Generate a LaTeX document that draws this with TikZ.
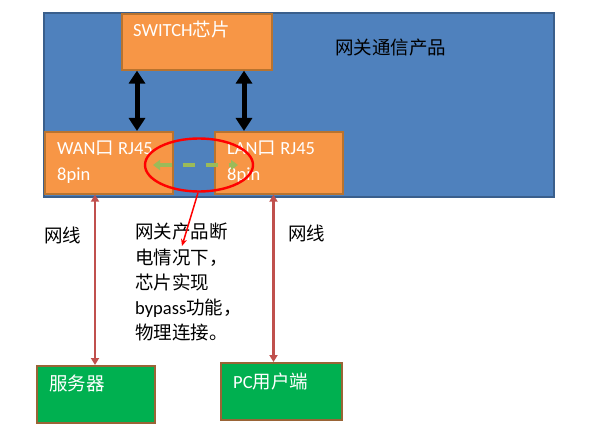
\documentclass[tikz,border=0pt]{standalone}
\usepackage{fontspec}
\setmainfont{Carlito}
\newfontfamily\cjk{Noto Sans CJK SC}
\usepackage{tikz}
\usetikzlibrary{arrows.meta,shapes.geometric}
\definecolor{gwblue}{HTML}{4F81BD}
\definecolor{gwblueline}{HTML}{3A5F8C}
\definecolor{portorange}{HTML}{F79646}
\definecolor{portline}{HTML}{B8732F}
\definecolor{hostgreen}{HTML}{00B050}
\definecolor{hostline}{HTML}{9A6436}
\definecolor{cablered}{HTML}{C0504D}
\definecolor{bypassgreen}{HTML}{9BBB59}

\begin{document}
\begin{tikzpicture}[x=1pt,y=-1pt,font=\fontsize{18.5}{25.3}\selectfont,
  portbox/.style={draw=portline,fill=portorange,line width=1.6pt,anchor=north west,inner sep=0pt},
  hostbox/.style={draw=hostline,fill=hostgreen,line width=2pt,anchor=north west,inner sep=0pt},
  boxtext/.style={text=white,anchor=base west,inner sep=0pt},
  plaintext/.style={text=black,inner sep=0pt},
  busarrow/.style={line width=5pt,{Triangle[length=13pt,width=16pt]}-{Triangle[length=13pt,width=16pt]}},
  cablearrow/.style={cablered,line width=2.4pt,{Triangle[length=7pt,width=8pt]}-{Triangle[length=7pt,width=8pt]}}]
\useasboundingbox (0,0) rectangle (608,441);
\node[draw=gwblueline,fill=gwblue,line width=1.6pt,anchor=north west,inner sep=0pt,minimum width=510pt,minimum height=184pt] (gateway) at (43,12) {};
\node[plaintext,anchor=west] (gwlabel) at (335,48) {\cjk 网关通信产品};
\node[portbox,minimum width=150pt,minimum height=56pt] (switch) at (121,13) {};
\node[boxtext] (switchlabel) at (133,37) {SWITCH{\cjk 芯片}};
\node[portbox,minimum width=128pt,minimum height=62pt] (wan) at (44,131) {};
\node[boxtext] (wanlabel) at (57,155) {WAN{\cjk 口} RJ45};
\node[boxtext] (wanpin) at (57,180) {8pin};
\node[portbox,minimum width=128pt,minimum height=62pt] (lan) at (214,131) {};
\node[boxtext] (lanlabel) at (227,155) {LAN{\cjk 口} RJ45};
\node[boxtext] (lanpin) at (227,180) {8pin};
\draw[busarrow] ([xshift=16pt]switch.south west) -- ([xshift=93pt]wan.north west);
\draw[busarrow] ([xshift=123pt]switch.south west) -- ([xshift=30pt]lan.north west);
\node[draw=red,line width=2.4pt,ellipse,inner sep=0pt,minimum width=108pt,minimum height=53pt] (bypass) at (199,165) {};
\draw[bypassgreen,line width=4pt,dash pattern=on 12pt off 11pt,{Triangle[length=7pt,width=10pt]}-{Triangle[length=7pt,width=10pt]}] ([xshift=-46pt]bypass.center) -- ([xshift=39pt]bypass.center);
\node[hostbox,minimum width=118pt,minimum height=57pt] (server) at (36,365) {};
\node[boxtext] (serverlabel) at (49,390) {\cjk 服务器};
\node[hostbox,minimum width=121pt,minimum height=57pt] (pc) at (220,362) {};
\node[boxtext] (pclabel) at (233,388) {PC{\cjk 用户端}};
\draw[cablearrow] ([xshift=-1pt]server.north |- wan.south) -- ([xshift=-1pt]server.north);
\draw[cablearrow] ([xshift=-8pt]pc.north |- lan.south) -- ([xshift=-8pt]pc.north);
\node[plaintext,anchor=west] (leftcable) at (44,235) {\cjk 网线};
\node[plaintext,anchor=west] (rightcable) at (288,233) {\cjk 网线};
\node[plaintext,anchor=north west,align=left] (note) at (135,223) {{\cjk 网关产品断}\\{\cjk 电情况下，}\\{\cjk 芯片实现}\\bypass{\cjk 功能，}\\{\cjk 物理连接。}};
\coordinate (notetip) at (182,246);
\draw[red,line width=1.5pt,-{Stealth[length=7pt,width=6pt]}] ([xshift=-1pt]bypass.south) -- (notetip);
\end{tikzpicture}
\end{document}
